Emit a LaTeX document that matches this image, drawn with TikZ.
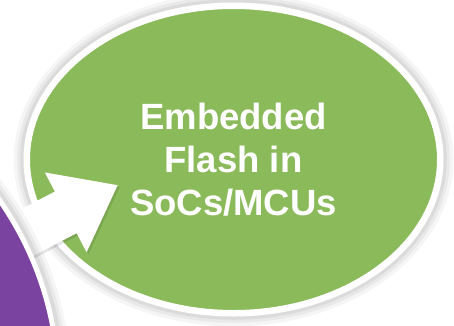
\documentclass[tikz,border=0pt]{standalone}
\usepackage{fontspec}
\setmainfont{Liberation Sans}
\usetikzlibrary{arrows.meta,shapes.geometric,backgrounds}
\definecolor{FlashGreen}{HTML}{8BBA5B}
\definecolor{CorePurple}{HTML}{7B43A0}
\tikzset{
  glow/.style={preaction={draw=black, draw opacity=.04, line width=26pt},
    preaction={draw=black, draw opacity=.05, line width=19pt},
    preaction={draw=black, draw opacity=.06, line width=13pt}},
  bubble/.style={ellipse, draw=white, line width=6.5pt, fill=FlashGreen, glow,
    text=white, align=center, inner sep=0pt, text depth=0pt,
    font={\fontsize{36.5pt}{43pt}\selectfont\bfseries}},
  disc/.style={circle, draw=white, line width=5pt, fill=CorePurple, glow, inner sep=0pt},
  blockarrow/.style={-{Triangle[length=59pt, width=86pt]}, line width=47pt, draw=white},
  arrowshade/.style={blockarrow, draw=black, opacity=.1}
}

\begin{document}
\begin{tikzpicture}[x=1pt, y=-1pt]
  \useasboundingbox (0,0) rectangle (454,325);
  \node[disc, minimum size=657pt] (core) at (-270,388) {};
  \coordinate (tip) at (118,185);
  \begin{scope}[on background layer]
    \node[bubble, minimum width=413.5pt, minimum height=307.5pt] (flash) at (233.5,159.5)
      {Embedded\\Flash in\\SoCs/MCUs};
    \draw[arrowshade, transform canvas={shift={(2pt,-2pt)}}] (core.center) -- (tip);
    \draw[blockarrow] (core.center) -- (tip);
  \end{scope}
\end{tikzpicture}
\end{document}
